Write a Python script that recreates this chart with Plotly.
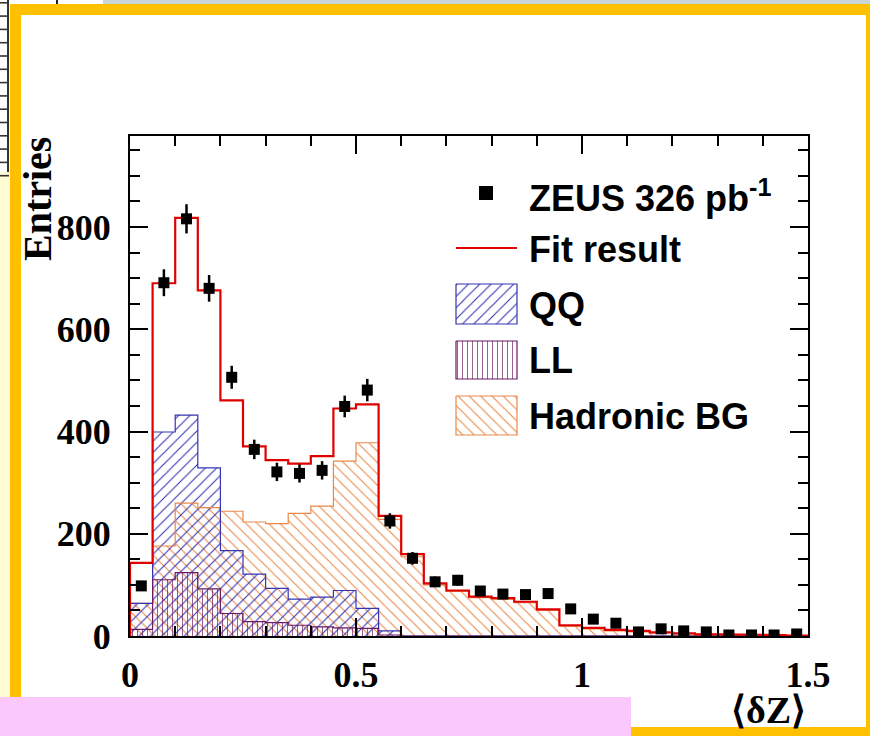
import numpy as np
import plotly.graph_objects as go

# ---------------- data ----------------
bin_lo, bin_hi, n_bins = 0.0, 1.5, 30
data_entries = [98, 691, 816, 680, 506, 365, 321, 318, 324, 449, 481, 225, 152, 106, 109,
                88, 82, 81, 83, 53, 33, 25, 8, 14, 10, 8, 2, 2, 2, 4]
fit_result = [143, 690, 818, 676, 461, 371, 344, 337, 352, 445, 453, 235, 160, 103, 89,
              77, 74, 67, 52, 21, 16, 12, 10, 7, 5, 3, 3, 2, 2, 1]
qq_vals = [64, 399, 432, 329, 167, 121, 93, 72, 76, 89, 54, 10, 0, 0, 0,
           0, 0, 0, 0, 0, 0, 0, 0, 0, 0, 0, 0, 0, 0, 0]
ll_vals = [13, 110, 124, 92, 44, 28, 26, 21, 18, 16, 15, 2, 0, 0, 0,
           0, 0, 0, 0, 0, 0, 0, 0, 0, 0, 0, 0, 0, 0, 0]
had_vals = [64, 176, 260, 251, 244, 223, 220, 240, 254, 342, 378, 228, 155, 100, 87,
            75, 72, 65, 50, 19, 14, 10, 8, 6, 4, 3, 2, 2, 1, 1]
x_ticks = [0, 0.5, 1, 1.5]
x_ticklabels = ["0", "0.5", "1", "1.5"]
y_ticks = [0, 200, 400, 600, 800]
y_ticklabels = ["0", "200", "400", "600", "800"]
legend_labels = ["ZEUS 326 pb<sup>-1</sup>", "Fit result", "QQ", "LL", "Hadronic BG"]

# ---------------- styles ----------------
W, H = 870, 736
ML, MR, MT, MB = 130, 62, 136, 100
BLUE = "#3434B4"
PURPLE = "#6A1A66"
ORANGE = "#E8894A"
RED = "#E00000"
YOUT = "#FFC000"

edges = np.linspace(bin_lo, bin_hi, n_bins + 1)
centers = 0.5 * (edges[:-1] + edges[1:])
bw = edges[1] - edges[0]


def step_xy(vals):
    v = np.asarray(vals, float)
    xs = np.repeat(edges, 2)
    ys = np.concatenate([[0], np.repeat(v, 2), [0]])
    return xs, ys


fig = go.Figure()


def hist(vals, color, shape, size):
    fig.add_trace(go.Bar(
        x=centers, y=vals, width=bw,
        marker=dict(color="rgba(0,0,0,0)", line=dict(width=0),
                    pattern=dict(shape=shape, fgcolor=color, bgcolor="rgba(0,0,0,0)",
                                 size=size, solidity=0.14, fillmode="replace")),
        hoverinfo="skip"))


hist(had_vals, ORANGE, "\\", 8)
hist(qq_vals, BLUE, "/", 8)
hist(ll_vals, PURPLE, "|", 5)

for vals, col in [(had_vals, ORANGE), (qq_vals, BLUE), (ll_vals, PURPLE)]:
    sx, sy = step_xy(vals)
    fig.add_trace(go.Scatter(x=sx, y=sy, mode="lines", line=dict(color=col, width=1.2),
                             hoverinfo="skip"))

fx, fy = step_xy(fit_result)
fig.add_trace(go.Scatter(x=fx, y=fy, mode="lines", line=dict(color=RED, width=2.2),
                         hoverinfo="skip"))

fig.add_trace(go.Scatter(
    x=centers, y=data_entries, mode="markers",
    marker=dict(symbol="square", size=11, color="black"),
    error_y=dict(type="data", array=np.sqrt(np.asarray(data_entries, float)),
                 color="black", thickness=2.5, width=0),
    hoverinfo="skip"))

# ---------------- legend (pixel-unit overlay axes) ----------------
lx0, lx1 = 456, 517
sw_rows = [(284, 324, "/", BLUE, 8), (341, 379, "|", PURPLE, 5), (396, 435, "\\", ORANGE, 8)]
for (y0, y1, shp, col, sz) in sw_rows:
    fig.add_trace(go.Scatter(
        x=[lx0, lx1, lx1, lx0, lx0], y=[y0, y0, y1, y1, y0], xaxis="x2", yaxis="y2",
        mode="lines", fill="toself", fillcolor="rgba(0,0,0,0)",
        fillpattern=dict(shape=shp, fgcolor=col, bgcolor="rgba(0,0,0,0)", size=sz,
                         solidity=0.14, fillmode="replace"),
        line=dict(color=col, width=1.2), hoverinfo="skip"))
fig.add_trace(go.Scatter(x=[486], y=[193], xaxis="x2", yaxis="y2", mode="markers",
                         marker=dict(symbol="square", size=14, color="black"), hoverinfo="skip"))
fig.add_trace(go.Scatter(x=[lx0, lx1], y=[248, 248], xaxis="x2", yaxis="y2", mode="lines",
                         line=dict(color=RED, width=2), hoverinfo="skip"))


def px(xp):
    return (xp - ML) / (W - ML - MR)


def py(yp):
    return (H - MB - yp) / (H - MT - MB)


annotations = []
for lab, yc in zip(legend_labels, [196, 249, 305, 360, 416]):
    annotations.append(dict(text=lab, x=px(527), y=py(yc), xref="paper", yref="paper",
                            xanchor="left", yanchor="middle", showarrow=False,
                            font=dict(family="Liberation Sans", size=36, color="black",
                                      weight="bold")))
annotations.append(dict(text="Entries", x=px(37), y=py(199), xref="paper", yref="paper",
                        textangle=-90, xanchor="center", yanchor="middle", showarrow=False,
                        font=dict(family="Liberation Serif", size=40, color="black",
                                  weight="bold")))
annotations.append(dict(text="⟨δZ⟩", x=px(808), y=py(710), xref="paper", yref="paper",
                        xanchor="right", yanchor="middle", showarrow=False,
                        font=dict(family="Liberation Serif", size=38, color="black",
                                  weight="bold")))

# ---------------- decoration shapes ----------------
shapes = []


def rect(x0, y0, x1, y1, color, layer="below"):
    shapes.append(dict(type="rect", xref="paper", yref="paper", x0=px(x0), x1=px(x1),
                       y0=py(y1), y1=py(y0), fillcolor=color, line=dict(width=0), layer=layer))


rect(0, 0, 10, 697, "#FFFBD2")
rect(103, 0, 870, 4, "#C9D5D6")
rect(56, 0, 58, 4, "#222222")
rect(10, 4, 870, 736, YOUT)
rect(21, 15, 866, 727, "white")
rect(0, 0, 9, 172, "white")
rect(7, 0, 9, 172, "#333333")
for k in range(14):
    yk = 2 + k * 13.3
    rect(0, yk, 9, yk + 1.6, "#333333")
rect(0, 697, 631, 736, "#FAC8FC")

tick_font = dict(family="Liberation Serif", size=36, color="black", weight="bold")
fig.update_layout(
    width=W, height=H, margin=dict(l=ML, r=MR, t=MT, b=MB),
    paper_bgcolor="white", plot_bgcolor="rgba(0,0,0,0)",
    showlegend=False, barmode="overlay", bargap=0,
    shapes=shapes, annotations=annotations,
    xaxis=dict(range=[bin_lo, bin_hi], tickvals=x_ticks, ticktext=x_ticklabels,
               ticks="inside", ticklen=18, tickwidth=2, tickcolor="black",
               showline=True, linecolor="black", linewidth=2, mirror="ticks",
               showgrid=False, zeroline=False, tickfont=tick_font, ticklabelstandoff=6,
               minor=dict(dtick=0.1, ticks="inside", ticklen=10, tickwidth=2,
                          tickcolor="black", showgrid=False)),
    yaxis=dict(range=[0, 978], tickvals=y_ticks, ticktext=y_ticklabels,
               ticks="inside", ticklen=18, tickwidth=2, tickcolor="black",
               showline=True, linecolor="black", linewidth=2, mirror="ticks",
               showgrid=False, zeroline=False, tickfont=tick_font, ticklabelstandoff=10,
               minor=dict(dtick=50, ticks="inside", ticklen=10, tickwidth=2,
                          tickcolor="black", showgrid=False)),
    xaxis2=dict(overlaying="x", range=[ML, W - MR], visible=False, fixedrange=True),
    yaxis2=dict(overlaying="y", range=[H - MB, MT], visible=False, fixedrange=True),
)

fig.write_html("out.html")
